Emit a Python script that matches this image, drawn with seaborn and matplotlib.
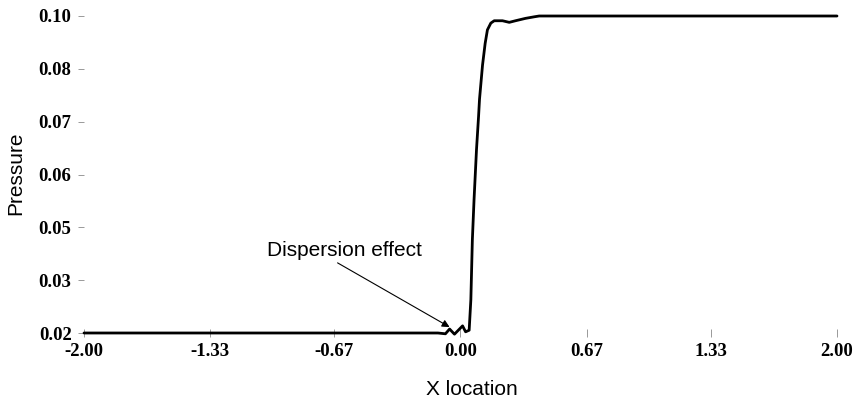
import numpy as np
import matplotlib
matplotlib.use("Agg")
import matplotlib.pyplot as plt
import seaborn as sns

# Data
x_loc = [-2.0, -0.12, -0.08, -0.058, -0.032, 0.011, 0.027, 0.046, 0.055, 0.063,
         0.072, 0.085, 0.096, 0.101, 0.117, 0.131, 0.143, 0.161, 0.179, 0.223,
         0.259, 0.292, 0.345, 0.392, 0.418, 2.0]
pressure = [0.02, 0.02, 0.0198, 0.0210, 0.0197, 0.0218, 0.0203, 0.0207, 0.0284, 0.0435,
            0.0537, 0.0663, 0.0747, 0.0790, 0.0876, 0.0931, 0.0965, 0.0982, 0.0988, 0.0988,
            0.0984, 0.0988, 0.0994, 0.0998, 0.100, 0.100]

x_ticks = [-2.00, -1.33, -0.67, 0.00, 0.67, 1.33, 2.00]
x_tick_labels = ["-2.00", "-1.33", "-0.67", "0.00", "0.67", "1.33", "2.00"]
y_tick_labels = ["0.02", "0.03", "0.05", "0.06", "0.07", "0.08", "0.10"]
y_ticks = list(np.linspace(0.02, 0.10, len(y_tick_labels)))

sns.set_style("white")
plt.rcParams["font.family"] = ["Liberation Sans", "DejaVu Sans"]
plt.rcParams["text.color"] = "black"
plt.rcParams["axes.labelcolor"] = "black"
plt.rcParams["xtick.labelcolor"] = "black"
plt.rcParams["ytick.labelcolor"] = "black"

fig = plt.figure(figsize=(8.56, 3.98), dpi=100)
ax = fig.add_axes([84 / 856, 65 / 398, 753 / 856, 317 / 398])

sns.lineplot(x=x_loc, y=pressure, color="black", linewidth=2.0,
             estimator=None, sort=False, ax=ax, clip_on=False)

ax.set_xlim(-2.0, 2.0)
ax.set_ylim(0.02, 0.10)
for s in ax.spines.values():
    s.set_visible(False)

ax.set_xticks(x_ticks)
ax.set_xticklabels(x_tick_labels, family="Liberation Serif", fontweight="bold", fontsize=13.5)
ax.set_yticks(y_ticks)
ax.set_yticklabels(y_tick_labels, family="Liberation Serif", fontweight="bold", fontsize=13.5)
ax.tick_params(axis="y", direction="out", length=4, width=0.7, color="#999999", pad=5,
               left=True, labelcolor="black")
ax.tick_params(axis="x", direction="inout", length=6, width=0.7, color="#999999", pad=4,
               bottom=True, labelcolor="black")

ax.set_xlabel("X location", fontsize=15, color="black")
ax.set_ylabel("Pressure", fontsize=15, color="black")
ax.xaxis.set_label_coords(0.515, -0.148)
ax.yaxis.set_label_coords(-0.078, 0.505)

ax.text(-0.616, 0.0409, "Dispersion effect", ha="center", va="center", fontsize=15, color="black")
ax.annotate("", xy=(-0.058, 0.0215), xytext=(-0.653, 0.0377),
            arrowprops=dict(arrowstyle="-|>", lw=0.8, color="black",
                            mutation_scale=11, shrinkA=0, shrinkB=0))

fig.savefig("out.png", dpi=100)
